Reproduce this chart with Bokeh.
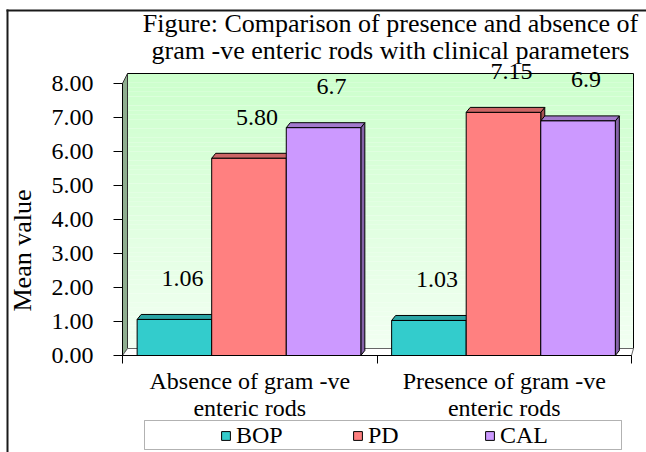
import math

from bokeh.plotting import figure
from bokeh.models import (Range1d, FixedTicker, Label, Legend, LegendItem, LinearAxis,
                          PolyAnnotation, BoxAnnotation, NumeralTickFormatter)
from bokeh.embed import file_html
from bokeh.resources import INLINE

# ---- data -------------------------------------------------------------
categories = ["Absence of gram -ve\nenteric rods", "Presence of gram -ve\nenteric rods"]
series = ["BOP", "PD", "CAL"]
bop_values = [1.06, 1.03]
pd_values = [5.80, 7.15]
cal_values = [6.70, 6.90]
bop_labels = ["1.06", "1.03"]
pd_labels = ["5.80", "7.15"]
cal_labels = ["6.7", "6.9"]
y_ticks = [0, 1, 2, 3, 4, 5, 6, 7, 8]
title_lines = ["Figure: Comparison of presence and absence of",
               "gram -ve enteric rods with clinical parameters"]
y_title = "Mean value"

values = {"BOP": bop_values, "PD": pd_values, "CAL": cal_values}
labels = {"BOP": bop_labels, "PD": pd_labels, "CAL": cal_labels}

# ---- layout / style ---------------------------------------------------
W, H = 646, 452
AXIS_X0, AXIS_X1, AXIS_Y0 = 122, 631, 355      # pixel position of the axes
PX_X = (AXIS_X1 - AXIS_X0) / len(categories)   # pixels per category
PX_Y = 34.0                                    # pixels per unit of y
FONT = "Liberation Serif"


def sx(px):
    """canvas pixel column -> x data coordinate"""
    return (px - AXIS_X0) / PX_X


def sy(py):
    """canvas pixel row -> y data coordinate"""
    return (AXIS_Y0 - py) / PX_Y


front = {"BOP": "#33CCCC", "PD": "#FF8080", "CAL": "#CC99FF"}
top_c = {"BOP": "#2AA5A5", "PD": "#CC6666", "CAL": "#A37ACC"}
side_c = {"BOP": "#1F7F7F", "PD": "#A65252", "CAL": "#8563A8"}

BAR_W = 0.293
OFFSETS = {"BOP": -0.296, "PD": -0.003, "CAL": 0.290}
DX, DY = 4 / PX_X, 5 / PX_Y                          # column depth
WX, WY_FLOOR, WY_TOP = 5 / PX_X, 7 / PX_Y, 10 / PX_Y  # wall depth
LABEL_DX, LABEL_DY = 8 / PX_X, 41 / PX_Y

# the plot frame covers the whole canvas; axes sit at fixed data positions
p = figure(width=W, height=H, output_backend="svg", toolbar_location=None,
           x_range=Range1d(sx(0), sx(W)), y_range=Range1d(sy(H), sy(0)),
           min_border=0, min_border_left=0, min_border_right=0,
           min_border_top=0, min_border_bottom=0,
           x_axis_location=None, y_axis_location=None,
           background_fill_color="white", border_fill_color="white")
p.outline_line_color = None
p.grid.visible = False

# ---- back wall with vertical gradient ---------------------------------
n = 60
y0w, y1w = WY_FLOOR, 8 + WY_TOP
xr = len(categories)
bots = [y0w + (y1w - y0w) * i / n for i in range(n)]
tops = [y0w + (y1w - y0w) * (i + 1) / n for i in range(n)]
cols = []
for i in range(n):
    t = (i + 0.5) / n
    r = int(round(242 + (204 - 242) * t))
    cols.append("#%02x%02x%02x" % (r, 255, r))
p.quad(left=WX, right=xr + WX * 0.4, bottom=bots, top=tops,
       fill_color=cols, line_color=None)
p.quad(left=[WX], right=[xr + WX * 0.4], bottom=[y0w], top=[y1w],
       fill_color=None, line_color="black", line_width=1)
# left side wall
p.patch(x=[0, 0, WX, WX], y=[0, 8, y1w, y0w], fill_color="#8FAE8F",
        line_color="#333333", line_width=1)
# floor
p.patch(x=[0, xr, xr + WX * 0.4, WX], y=[0, 0, y0w, y0w], fill_color="white",
        line_color="#666666", line_width=1)

# ---- 3-D columns --------------------------------------------------------
centers = [i + 0.5 for i in range(len(categories))]
side_xs, side_ys, side_cols = [], [], []
top_xs, top_ys, top_cols = [], [], []
for s in series:
    for c, v in zip(centers, values[s]):
        x0 = c + OFFSETS[s] - BAR_W / 2
        x1 = x0 + BAR_W
        side_xs.append([x1, x1, x1 + DX, x1 + DX])
        side_ys.append([0, v, v + DY, DY])
        side_cols.append(side_c[s])
        top_xs.append([x0, x1, x1 + DX, x0 + DX])
        top_ys.append([v, v, v + DY, v + DY])
        top_cols.append(top_c[s])
p.patches(xs=side_xs, ys=side_ys, fill_color=side_cols, line_color="black", line_width=1)
p.patches(xs=top_xs, ys=top_ys, fill_color=top_cols, line_color="black", line_width=1)

front_renderers = {}
for s in series:
    lefts = [c + OFFSETS[s] - BAR_W / 2 for c in centers]
    rights = [l + BAR_W for l in lefts]
    front_renderers[s] = p.quad(left=lefts, right=rights, bottom=0, top=values[s],
                                fill_color=front[s], line_color="black", line_width=1)

# value labels above the columns
for s in series:
    for c, v, t in zip(centers, values[s], labels[s]):
        p.add_layout(Label(x=c + OFFSETS[s] + LABEL_DX, y=v + LABEL_DY, text=t,
                           text_font=FONT, text_font_size="24px",
                           text_align="center", text_baseline="middle",
                           text_color="black"))

# ---- axes ---------------------------------------------------------------
yax = LinearAxis(ticker=FixedTicker(ticks=y_ticks), bounds=(0, 8),
                 formatter=NumeralTickFormatter(format="0.00"), fixed_location=0)
yax.major_tick_in = 0
yax.major_tick_out = 9
yax.minor_tick_line_color = None
yax.major_tick_line_color = "black"
yax.major_label_standoff = 20
yax.major_label_text_font = FONT
yax.major_label_text_font_size = "24px"
yax.major_label_text_color = "black"
yax.axis_line_color = "black"
p.add_layout(yax, "left")

p.add_layout(Label(x=sx(22), y=sy(250), text=y_title, angle=math.pi / 2,
                   text_font=FONT, text_font_size="26px", text_align="center",
                   text_baseline="middle", text_color="black"))

xax = LinearAxis(ticker=FixedTicker(ticks=centers, minor_ticks=list(range(xr + 1))),
                 bounds=(0, xr), fixed_location=0)
xax.major_label_overrides = {c: name for c, name in zip(centers, categories)}
xax.major_tick_line_color = None
xax.major_tick_out = 0
xax.major_tick_in = 0
xax.minor_tick_in = 0
xax.minor_tick_out = 8
xax.minor_tick_line_color = "black"
xax.major_label_standoff = 4
xax.major_label_text_font = FONT
xax.major_label_text_font_size = "24px"
xax.major_label_text_color = "black"
xax.major_label_text_line_height = 1.05
xax.axis_line_color = "black"
p.add_layout(xax, "below")

# ---- title ---------------------------------------------------------------
for line, mid in zip(title_lines, [23, 50]):
    p.add_layout(Label(x=sx(390), y=sy(mid), text=line, text_font=FONT,
                       text_font_size="26px", text_align="center",
                       text_baseline="middle", text_color="black"))

# ---- outer frame of the figure --------------------------------------------
p.add_layout(BoxAnnotation(left=sx(6), right=sx(W + 2), top=sy(9), bottom=sy(11),
                           fill_color="#1a1a1a", fill_alpha=1, line_color=None))
p.add_layout(BoxAnnotation(left=sx(6), right=sx(8), top=sy(9), bottom=sy(H + 2),
                           fill_color="#1a1a1a", fill_alpha=1, line_color=None))

# ---- legend ---------------------------------------------------------------
p.add_layout(PolyAnnotation(xs=[sx(144), sx(621), sx(621), sx(144)],
                            ys=[sy(420), sy(420), sy(449), sy(449)],
                            fill_color="white", fill_alpha=1,
                            line_color="black", line_width=1))
items = [LegendItem(label=s, renderers=[front_renderers[s]]) for s in series]
legend = Legend(items=items, orientation="horizontal", location=(220, 3),
                glyph_width=11, glyph_height=11, label_standoff=5,
                label_width=60, spacing=56, padding=0, margin=0,
                border_line_color=None, background_fill_alpha=0,
                label_text_font=FONT, label_text_font_size="24px",
                label_text_color="black")
p.add_layout(legend)

open("out.html", "w").write(file_html(p, INLINE))
